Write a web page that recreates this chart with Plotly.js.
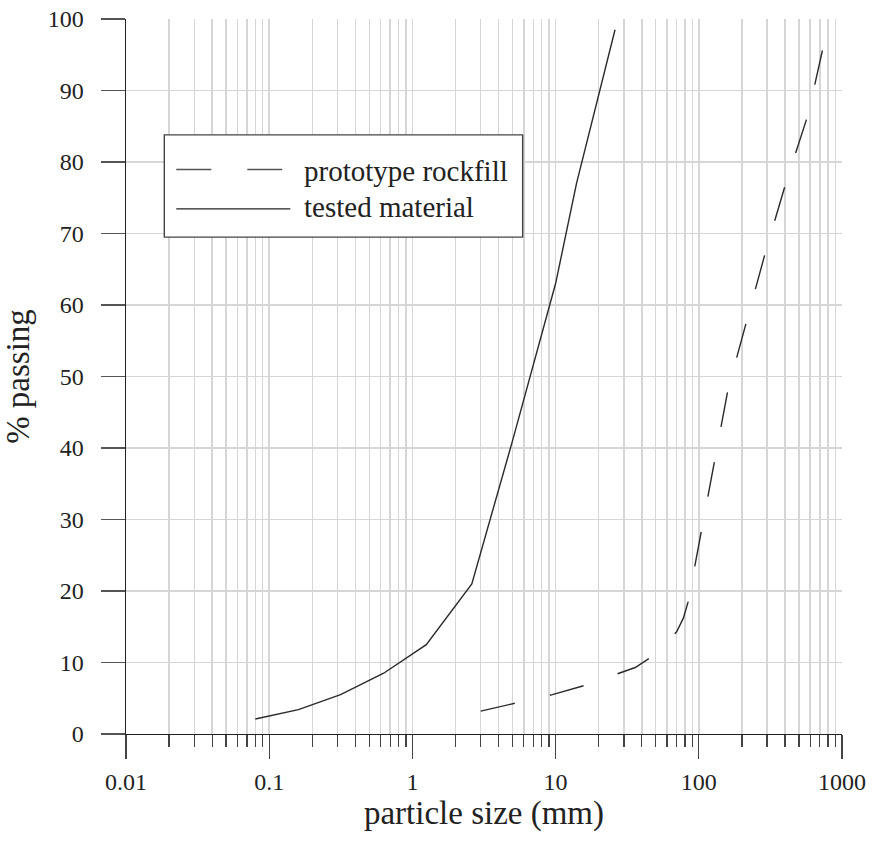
<!DOCTYPE html>
<html>
<head>
<meta charset="utf-8">
<script src="https://cdn.plot.ly/plotly-3.0.1.min.js"></script>
<style>
html,body{margin:0;padding:0;background:#fff;}
#chart{width:873px;height:841px;}
</style>
</head>
<body>
<div id="chart"></div>
<script>
// ---- data ----
var seriesNames = ["prototype rockfill", "tested material"];

var rockfillSize = [3, 9.5, 16, 36, 46, 70, 78, 84, 160, 216, 293, 406, 579, 745];
var rockfillPass = [3.2, 5.5, 6.8, 9.3, 10.7, 14.3, 16.2, 18.4, 48.2, 57.8, 67.5, 77.1, 86.6, 96.4];

var testedSize = [0.08, 0.16, 0.315, 0.63, 1.25, 2.6, 5, 10, 14, 26];
var testedPass = [2.1, 3.4, 5.5, 8.5, 12.5, 21, 41, 63, 77, 98.5];

var xMajorTicks = [0.01, 0.1, 1, 10, 100, 1000];
var xMajorLabels = ["0.01", "0.1", "1", "10", "100", "1000"];
var xMinorMultipliers = [2, 3, 4, 5, 6, 7, 8, 9];
var yTicks = [0, 10, 20, 30, 40, 50, 60, 70, 80, 90, 100];

// ---- build ----
var minorVals = [];
for (var d = 0; d < xMajorTicks.length - 1; d++) {
  for (var m = 0; m < xMinorMultipliers.length; m++) {
    minorVals.push(xMajorTicks[d] * xMinorMultipliers[m]);
  }
}

var FONT = "Liberation Serif";
var TXT = "#222222";
var GRID = "#d6d6d6";

var traces = [
  {
    x: rockfillSize, y: rockfillPass, type: "scatter", mode: "lines",
    name: seriesNames[0],
    line: {color: "#2a2a2a", width: 1.4, dash: "35px,36px"},
    showlegend: false, hoverinfo: "skip"
  },
  {
    x: testedSize, y: testedPass, type: "scatter", mode: "lines",
    name: seriesNames[1],
    line: {color: "#2a2a2a", width: 1.4},
    showlegend: false, hoverinfo: "skip"
  }
];

var layout = {
  width: 873, height: 841,
  margin: {l: 126, r: 31, t: 19, b: 107},
  paper_bgcolor: "#ffffff", plot_bgcolor: "#ffffff",
  font: {family: FONT, color: TXT, size: 24},
  showlegend: false,
  xaxis: {
    type: "log",
    range: [-2, 3],
    tickmode: "array",
    tickvals: xMajorTicks,
    ticktext: xMajorLabels,
    ticks: "outside", ticklen: 24, tickwidth: 1.3, tickcolor: "#444",
    ticklabelstandoff: 2,
    tickfont: {family: FONT, size: 24, color: TXT},
    showgrid: true, gridcolor: GRID, gridwidth: 1.5,
    minor: {
      tickmode: "array", tickvals: minorVals,
      ticks: "outside", ticklen: 12, tickwidth: 1.3, tickcolor: "#444",
      showgrid: true, gridcolor: GRID, gridwidth: 1.5
    },
    showline: true, linecolor: "#222", linewidth: 1.4,
    zeroline: false,
    title: {text: "particle size (mm)", font: {family: FONT, size: 33, color: TXT}, standoff: 2}
  },
  yaxis: {
    range: [0, 100],
    tickmode: "array", tickvals: yTicks,
    ticks: "outside", ticklen: 24, tickwidth: 1.3, tickcolor: "#555",
    ticklabelstandoff: 12,
    tickfont: {family: FONT, size: 24, color: TXT},
    showgrid: true, gridcolor: GRID, gridwidth: 1.5,
    showline: true, linecolor: "#222", linewidth: 1.4,
    zeroline: false,
    title: {text: "% passing", font: {family: FONT, size: 33, color: TXT}, standoff: 10}
  },
  shapes: [
    // legend box
    {type: "rect", xref: "paper", yref: "paper", x0: 0.0535, x1: 0.554, y0: 0.695, y1: 0.838,
     line: {color: "#444", width: 1.4}, fillcolor: "#ffffff", layer: "above"},
    // legend sample: dashed
    {type: "line", xref: "paper", yref: "paper", x0: 0.0702, x1: 0.2193, y0: 0.7895, y1: 0.7895,
     line: {color: "#555", width: 1.4, dash: "35px,36px"}, layer: "above"},
    // legend sample: solid
    {type: "line", xref: "paper", yref: "paper", x0: 0.0702, x1: 0.2295, y0: 0.7345, y1: 0.7345,
     line: {color: "#222", width: 1.4}, layer: "above"}
  ],
  annotations: [
    {xref: "paper", yref: "paper", x: 0.2459, y: 0.787, xanchor: "left", yanchor: "middle",
     text: seriesNames[0], showarrow: false, font: {family: FONT, size: 29, color: TXT}},
    {xref: "paper", yref: "paper", x: 0.2459, y: 0.737, xanchor: "left", yanchor: "middle",
     text: seriesNames[1], showarrow: false, font: {family: FONT, size: 29, color: TXT}}
  ]
};

Plotly.newPlot("chart", traces, layout, {staticPlot: true, displayModeBar: false});
</script>
</body>
</html>
